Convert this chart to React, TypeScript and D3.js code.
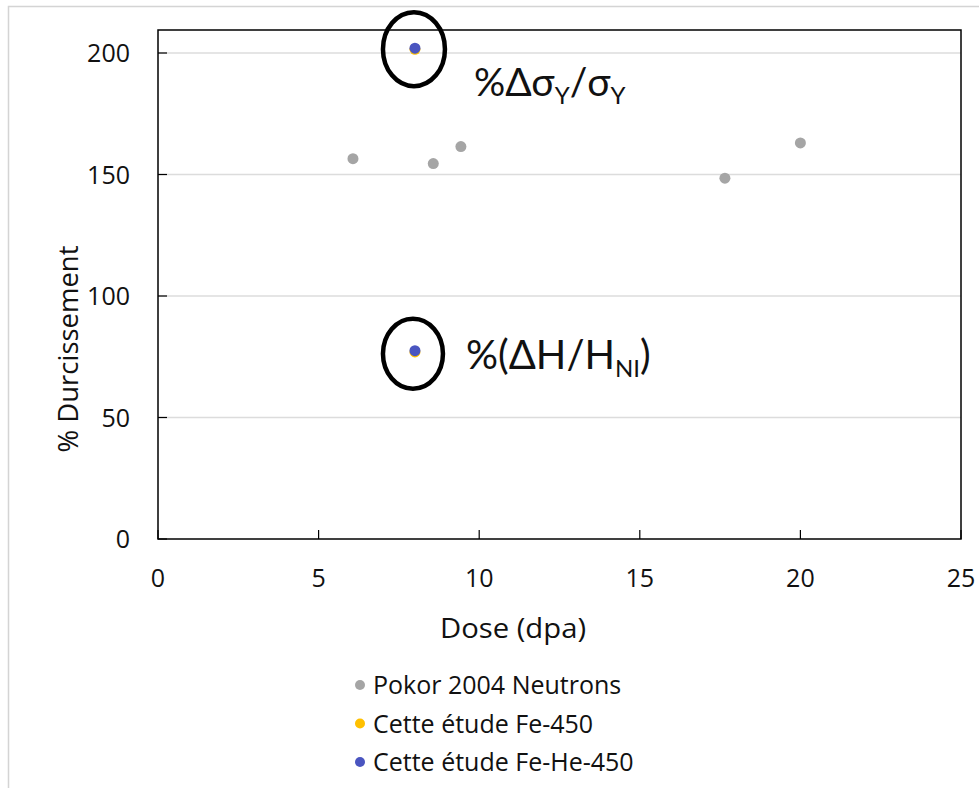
import React from "react";
import * as d3 from "d3";

const xTicks = [0, 5, 10, 15, 20, 25];
const yTicks = [0, 50, 100, 150, 200];

const pokorDose = [6.07, 8.57, 9.43, 17.65, 20.0];
const pokorHard = [156.5, 154.5, 161.5, 148.5, 163.0];

const fe450Dose = [8.0, 8.0];
const fe450Hard = [201.5, 77.0];

const feHe450Dose = [8.0, 8.0];
const feHe450Hard = [202.0, 77.5];

const legendLabels = ["Pokor 2004 Neutrons", "Cette étude Fe-450", "Cette étude Fe-He-450"];
const legendColors = ["#a5a5a5", "#ffc000", "#4a55c0"];

const FONT = "'Open Sans', sans-serif";
const AFONT = "Lato, 'Open Sans', sans-serif";

export default function App() {
  const W = 979, H = 788;
  const left = 158, right = 961, top = 30, bottom = 539;
  const x = d3.scaleLinear().domain([0, 25]).range([left, right]);
  const y = d3.scaleLinear().domain([0, (bottom - top) / ((bottom - 53) / 200)]).range([bottom, top]);

  return (
    <svg width={W} height={H} style={{ position: "absolute", left: 0, top: 0, background: "#fff" }}>
      <rect x={8.5} y={6.5} width={1000} height={800} fill="#fff" stroke="#d4d4d4" strokeWidth={1.5} />
      {yTicks.filter((t) => t > 0).map((t) => (
        <line key={"g" + t} x1={left} x2={right} y1={y(t)} y2={y(t)} stroke="#dcdcdc" strokeWidth={1.5} />
      ))}
      <rect x={left} y={top} width={right - left} height={bottom - top} fill="none" stroke="#000" strokeWidth={1.5} />
      {yTicks.map((t) => (
        <g key={"y" + t}>
          <line x1={left} x2={left + 9} y1={y(t)} y2={y(t)} stroke="#000" strokeWidth={1.2} />
          <text x={130} y={y(t)} dy="0.36em" textAnchor="end" fontFamily={FONT} fontSize={25} fill="#111">
            {t}
          </text>
        </g>
      ))}
      {xTicks.map((t) => (
        <g key={"x" + t}>
          <line x1={x(t)} x2={x(t)} y1={bottom} y2={bottom - 9} stroke="#000" strokeWidth={1.2} />
          <text x={x(t)} y={578} dy="0.36em" textAnchor="middle" fontFamily={FONT} fontSize={25} fill="#111">
            {t}
          </text>
        </g>
      ))}
      <text x={513} y={638} textAnchor="middle" fontFamily={FONT} fontSize={27} textLength={146} lengthAdjust="spacingAndGlyphs" fill="#111">
        Dose (dpa)
      </text>
      <text
        transform={`translate(78, 349) rotate(-90)`}
        textAnchor="middle"
        fontFamily={FONT}
        fontSize={27}
        textLength={207}
        lengthAdjust="spacingAndGlyphs"
        fill="#111"
      >
        % Durcissement
      </text>

      {pokorDose.map((d, i) => (
        <circle key={"p" + i} cx={x(d)} cy={y(pokorHard[i])} r={5.5} fill={legendColors[0]} />
      ))}
      {fe450Dose.map((d, i) => (
        <circle key={"f" + i} cx={x(d)} cy={y(fe450Hard[i])} r={5.5} fill={legendColors[1]} />
      ))}
      {feHe450Dose.map((d, i) => (
        <circle key={"h" + i} cx={x(d)} cy={y(feHe450Hard[i])} r={5.5} fill={legendColors[2]} />
      ))}

      <ellipse cx={x(feHe450Dose[0]) - 1} cy={y(feHe450Hard[0]) + 1} rx={31} ry={37} fill="none" stroke="#000" strokeWidth={4.5} />
      <ellipse cx={x(feHe450Dose[1]) - 2} cy={y(feHe450Hard[1]) + 3} rx={30} ry={35} fill="none" stroke="#000" strokeWidth={4.5} />

      <text x={474} y={96} fontFamily={AFONT} fontSize={39} fill="#111">
        %Δσ<tspan fontSize={24} dy={8}>Y</tspan>
        <tspan dy={-8}>/σ</tspan>
        <tspan fontSize={24} dy={8}>Y</tspan>
      </text>
      <text x={466} y={369} fontFamily={AFONT} fontSize={40} fill="#111">
        %(ΔH/H<tspan fontSize={24} dy={8}>NI</tspan>
        <tspan dy={-8}>)</tspan>
      </text>

      {legendLabels.map((l, i) => (
        <g key={"l" + i} transform={`translate(0, ${685 + i * 38.5})`}>
          <circle cx={360} cy={0} r={5} fill={legendColors[i]} />
          <text x={373} y={0} dy="0.36em" fontFamily={FONT} fontSize={25} fill="#111">
            {l}
          </text>
        </g>
      ))}
    </svg>
  );
}
